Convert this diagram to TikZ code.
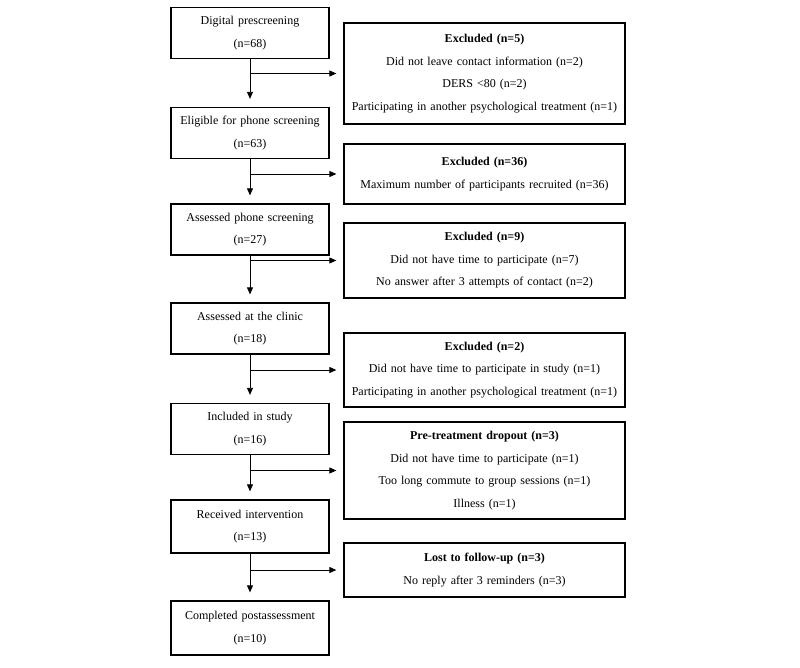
\documentclass[tikz,border=0pt]{standalone}
\usepackage{fontspec}
\setmainfont{Liberation Serif}
\usetikzlibrary{arrows.meta}

\begin{document}
\begin{tikzpicture}[x=1pt, y=-1pt,
    stage/.style={draw, line width=1.3pt, align=center, text width=150pt, inner xsep=4pt, minimum height=51pt, font=\fontsize{12}{22.5}\selectfont},
    drop/.style={draw, line width=1.3pt, align=center, text width=275pt, inner xsep=3pt, font=\fontsize{12}{22.5}\selectfont},
    flow/.style={line width=0.8pt, -{Triangle[width=6pt, length=7pt]}}]
                                \useasboundingbox (0,0) rectangle (800,667);
                                % main flow
                                \node[stage] (L1) at (250,33) {Digital prescreening\\(n=68)};
                                \node[stage] (L2) at (250,133) {Eligible for phone screening\\(n=63)};
                                \node[stage] (L3) at (250,229.5) {Assessed phone screening\\(n=27)};
                                \node[stage] (L4) at (250,328.5) {Assessed at the clinic\\(n=18)};
                                \node[stage] (L5) at (250,429) {Included in study\\(n=16)};
                                \node[stage, minimum height=53pt] (L6) at (250,526.5) {Received intervention\\(n=13)};
                                \node[stage, minimum height=54pt] (L7) at (250,628) {Completed postassessment\\(n=10)};
                                % exclusions
                                \node[drop, minimum height=101pt] (R1) at (484.5,73.5) {\textbf{Excluded (n=5)}\\Did not leave contact information (n=2)\\DERS <80 (n=2)\\Participating in another psychological treatment (n=1)};
                                \node[drop, minimum height=60pt] (R2) at (484.5,174) {\textbf{Excluded (n=36)}\\Maximum number of participants recruited (n=36)};
                                \node[drop, minimum height=75pt] (R3) at (484.5,260.5) {\textbf{Excluded (n=9)}\\Did not have time to participate (n=7)\\No answer after 3 attempts of contact (n=2)};
                                \node[drop, minimum height=74pt] (R4) at (484.5,370) {\textbf{Excluded (n=2)}\\Did not have time to participate in study (n=1)\\Participating in another psychological treatment (n=1)};
                                \node[drop, minimum height=97pt] (R5) at (484.5,470.5) {\textbf{Pre-treatment dropout (n=3)}\\Did not have time to participate (n=1)\\Too long commute to group sessions (n=1)\\Illness (n=1)};
                                \node[drop, minimum height=54pt] (R6) at (484.5,570) {\textbf{Lost to follow-up (n=3)}\\No reply after 3 reminders (n=3)};
                                % arrows
                                \draw[flow, shorten >=8pt] (L1) -- (L2);
                                \draw[flow, shorten >=8pt] (L2) -- (L3);
                                \draw[flow, shorten >=8pt] (L3) -- (L4);
                                \draw[flow, shorten >=8pt] (L4) -- (L5);
                                \draw[flow, shorten >=8pt] (L5) -- (L6);
                                \draw[flow, shorten >=8pt] (L6) -- (L7);
                                \draw[flow, shorten >=7pt] (L1 |- R1.west) -- (R1.west);
                                \draw[flow, shorten >=7pt] (L2 |- R2.west) -- (R2.west);
                                \draw[flow, shorten >=7pt] (L3 |- R3.west) -- (R3.west);
                                \draw[flow, shorten >=7pt] (L4 |- R4.west) -- (R4.west);
                                \draw[flow, shorten >=7pt] (L5 |- R5.west) -- (R5.west);
                                \draw[flow, shorten >=7pt] (L6 |- R6.west) -- (R6.west);
                            \end{tikzpicture}
\end{document}
